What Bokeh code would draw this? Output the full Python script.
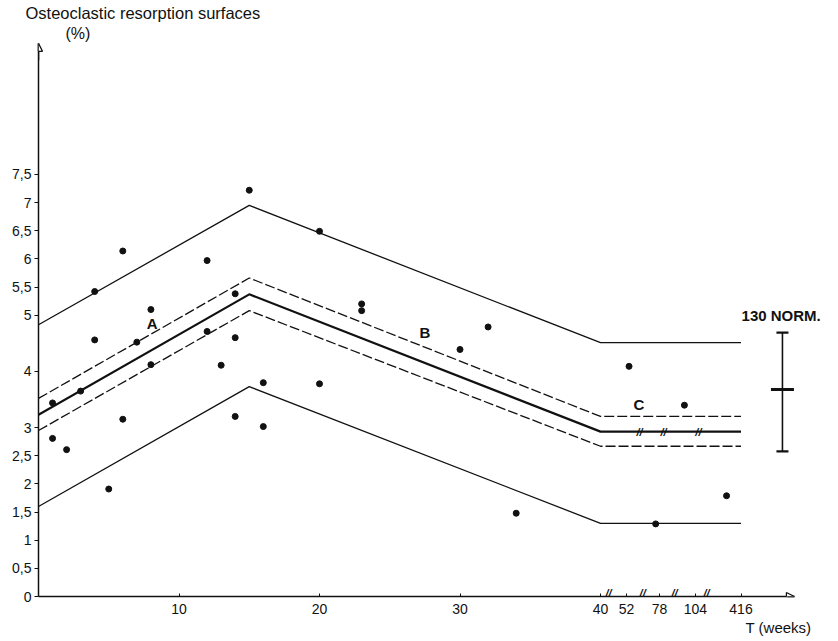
from bokeh.plotting import figure
from bokeh.models import (Range1d, FixedTicker, Label, Arrow, NormalHead, Title)
from bokeh.core.properties import value
from bokeh.embed import file_html
from bokeh.resources import INLINE
import numpy as np

# ---------------- data ----------------
weeks = [1, 1, 2, 3, 4, 4, 5, 6, 6, 7, 8, 8,
         12, 12, 13, 14, 14, 14, 15, 16, 16,
         20, 20, 23, 23, 30, 32, 34,
         54, 75, 96, 317]
surfaces = [3.44, 2.81, 2.61, 3.65, 5.42, 4.56, 1.91, 6.14, 3.15, 4.52, 5.10, 4.12,
            5.97, 4.71, 4.11, 5.38, 4.60, 3.20, 7.22, 3.80, 3.02,
            6.49, 3.78, 5.20, 5.08, 4.39, 4.79, 1.48,
            4.09, 1.29, 3.40, 1.79]

line_weeks = [0, 15, 40, 416]
upper_limit = [4.83, 6.95, 4.51, 4.51]
upper_conf = [3.52, 5.66, 3.20, 3.20]
regression = [3.23, 5.37, 2.93, 2.93]
lower_conf = [2.95, 5.08, 2.67, 2.67]
lower_limit = [1.60, 3.73, 1.30, 1.30]

norm_low, norm_mean, norm_high = 2.58, 3.68, 4.69
norm_label = "130  NORM."

y_ticks = [0, 0.5, 1, 1.5, 2, 2.5, 3, 4, 5, 5.5, 6, 6.5, 7, 7.5]
y_tick_labels = ["0", "0,5", "1", "1,5", "2", "2,5", "3", "4", "5", "5,5",
                 "6", "6,5", "7", "7,5"]
x_tick_weeks = [10, 20, 30, 40, 52, 78, 104, 416]

# ---------------- broken time axis (weeks -> axis position) ----------------
AXIS_WEEKS = [0, 40, 52, 78, 104, 416]
AXIS_POS = [0, 40, 41.85, 44.2, 46.76, 50.0]


def wpos(w):
    return np.interp(np.asarray(w, dtype=float), AXIS_WEEKS, AXIS_POS)


AXIS_BREAKS = [40.57, 43.0, 45.27, 47.54]
LINE_BREAKS = [42.78, 44.48, 46.97]
NORM_X = 52.95
X_END = 53.8
Y_END = 9.83

FONT = "Liberation Sans"
INK = "#111111"

W, H = 836, 640
ML, MR, MT, MB = 38, 2, 42, 44
p = figure(width=W, height=H,
           x_range=Range1d(0, (W - ML - MR) / 14.05),
           y_range=Range1d(0, (H - MT - MB) / 56.27),
           output_backend="svg", toolbar_location=None,
           min_border_left=ML, min_border_right=MR,
           min_border_top=MT, min_border_bottom=MB)
p.outline_line_color = None
p.grid.visible = False
p.background_fill_color = "white"
p.border_fill_color = "white"

# titles (outside the frame)
p.title.text = "Osteoclastic resorption surfaces"
p.title.align = "left"
p.title.offset = -13
p.title.standoff = 0
p.title.text_font = FONT
p.title.text_font_size = "16.5px"
p.title.text_font_style = "normal"
p.title.text_color = INK
p.add_layout(Title(text="(%)", align="left", offset=27,
                   standoff=2, text_font=FONT, text_font_size="16px",
                   text_font_style="normal", text_color=INK), "above")

# axes
xa = p.xaxis[0]
xt = [round(float(v), 2) for v in wpos(x_tick_weeks)]
xa.ticker = FixedTicker(ticks=xt)
xa.major_label_overrides = {v: str(w) for v, w in zip(xt, x_tick_weeks)}
xa.bounds = (0, X_END)
xa.axis_line_width = 1.5
xa.axis_line_color = INK
xa.major_tick_in = 3
xa.major_tick_out = 0
xa.major_tick_line_color = INK
xa.minor_tick_line_color = None
xa.major_label_text_font = FONT
xa.major_label_text_font_size = "14px"
xa.major_label_text_color = INK
xa.major_label_standoff = 7

p.add_layout(Title(text="T (weeks)", align="left", offset=745 - ML, standoff=0,
                   text_font=FONT, text_font_size="15px", text_font_style="normal",
                   text_color=INK), "below")

ya = p.yaxis[0]
ya.ticker = FixedTicker(ticks=y_ticks)
ya.major_label_overrides = {t: l for t, l in zip(y_ticks, y_tick_labels)}
ya.bounds = (0, Y_END)
ya.axis_line_width = 1.5
ya.axis_line_color = INK
ya.major_tick_in = 0
ya.major_tick_out = 4
ya.major_tick_line_color = INK
ya.minor_tick_line_color = None
ya.major_label_text_font = FONT
ya.major_label_text_font_size = "14px"
ya.major_label_text_color = INK
ya.major_label_standoff = 3

# axis arrow heads
p.add_layout(Arrow(end=NormalHead(size=8, fill_color="white", line_color=INK, line_width=1.2),
                   x_start=0, y_start=Y_END - 0.3, x_end=0, y_end=Y_END,
                   line_color=INK, line_width=1.5))
p.add_layout(Arrow(end=NormalHead(size=8, fill_color="white", line_color=INK, line_width=1.2),
                   x_start=X_END - 0.5, y_start=0, x_end=X_END, y_end=0,
                   line_color=INK, line_width=1.5))

# lines
lx = wpos(line_weeks)
p.line(lx, upper_limit, line_color=INK, line_width=1.3)
p.line(lx, lower_limit, line_color=INK, line_width=1.3)
p.line(lx, upper_conf, line_color=INK, line_width=1.3, line_dash="10 3")
p.line(lx, lower_conf, line_color=INK, line_width=1.3, line_dash="10 3")
p.line(lx, regression, line_color=INK, line_width=2.2)

# points
p.scatter(wpos(weeks), surfaces, size=6, color=INK)

# normal value bar
p.segment(x0=[NORM_X], y0=[norm_low], x1=[NORM_X], y1=[norm_high], line_color=INK, line_width=1.6)
p.scatter([NORM_X, NORM_X], [norm_low, norm_high], marker="dash", size=12,
          line_color=INK, line_width=2.2)
p.scatter([NORM_X], [norm_mean], marker="dash", size=23, line_color=INK, line_width=3)

# break marks
flat_reg = regression[-1]
p.text(x=LINE_BREAKS, y=[flat_reg] * len(LINE_BREAKS), text=["//"] * len(LINE_BREAKS),
       text_font=value(FONT), text_font_size="11px", text_font_style="bold italic",
       text_align="center", text_baseline="middle", text_color=INK)
p.text(x=AXIS_BREAKS, y=[0.07] * len(AXIS_BREAKS), text=["//"] * len(AXIS_BREAKS),
       text_font=value(FONT), text_font_size="11px", text_font_style="bold italic",
       text_align="center", text_baseline="middle", text_color=INK)


def lab(x, y, text, size, style="normal", baseline="middle", align="left"):
    p.add_layout(Label(x=x, y=y, text=text, text_font=FONT, text_font_size=size,
                       text_font_style=style, text_color=INK,
                       text_baseline=baseline, text_align=align))


lab(50.04, 4.99, norm_label, "15px", style="bold")
lab(8.09, 4.85, "A", "15px", style="bold", align="center")
lab(27.5, 4.70, "B", "15px", style="bold", align="center")
lab(42.73, 3.41, "C", "15px", style="bold", align="center")

open("out.html", "w").write(file_html(p, INLINE))
